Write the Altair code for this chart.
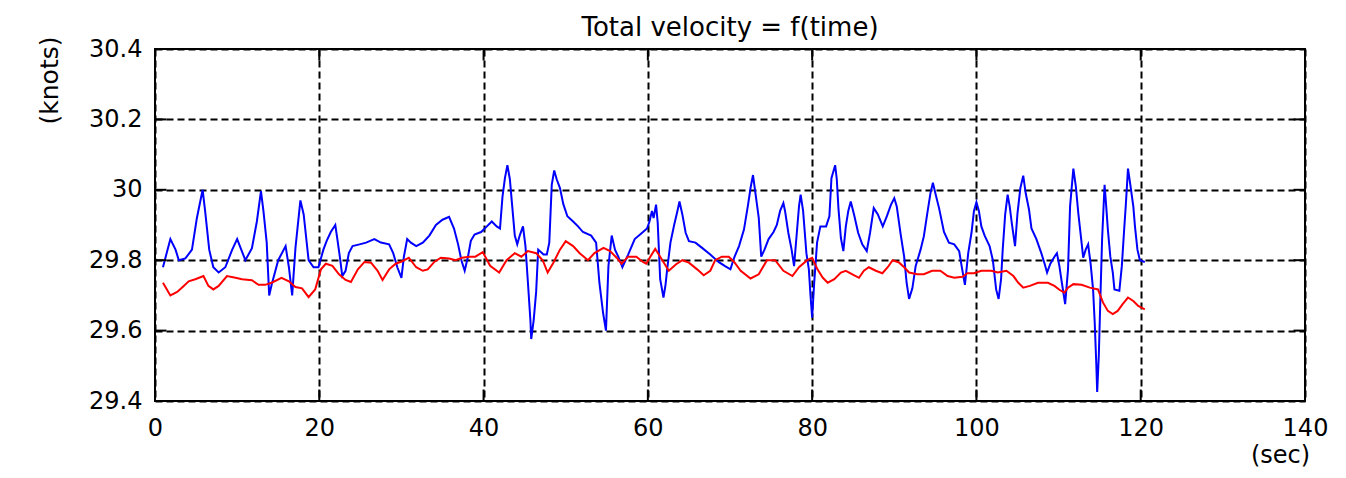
import altair as alt
import pandas as pd

# ---- data ----
blue_t = [0.97, 1.87, 2.5, 2.9, 3.7, 4.5, 5.1, 5.8, 6.1, 6.6, 7.1, 7.75, 8.56, 9.4, 10.0, 10.5, 11.0, 11.8,
          12.4, 12.9, 13.2, 13.6, 13.9, 14.2, 15.0, 15.9, 16.3, 16.7, 17.1, 17.7, 18.1, 18.7, 19.3, 19.9,
          20.5, 20.9, 21.4, 21.95, 22.2, 22.5, 22.8, 23.2, 23.6, 24.05, 24.9, 25.7, 26.7, 27.5, 28.5, 29.0,
          29.5, 30.0, 30.3, 30.7, 31.15, 31.8, 32.6, 33.4, 34.2, 35.0, 35.8, 36.4, 36.9, 37.3, 37.7, 38.1,
          38.45, 38.9, 39.7, 40.4, 41.0, 41.6, 42.0, 42.3, 42.6, 42.9, 43.2, 43.5, 43.8, 44.1, 44.4, 44.8,
          45.1, 45.4, 45.7, 45.8, 46.1, 46.4, 46.65, 47.3, 47.7, 48.0, 48.3, 48.6, 48.9, 49.3, 49.7, 50.2,
          50.9, 51.5, 52.1, 53.1, 53.7, 54.1, 54.55, 54.9, 55.2, 55.6, 56.0, 56.4, 56.9, 57.6, 58.4, 59.2,
          59.9, 60.2, 60.5, 60.7, 61.0, 61.2, 61.5, 61.9, 62.15, 62.35, 62.75, 63.2, 63.6, 63.85, 64.2,
          64.6, 65.0, 65.8, 66.6, 67.6, 68.6, 69.4, 70.05, 70.5, 71.1, 71.7, 72.2, 72.5, 72.8, 73.1, 73.5,
          73.8, 74.2, 74.7, 75.3, 75.7, 76.1, 76.5, 76.7, 77.1, 77.5, 77.8, 78.1, 78.4, 78.6, 78.9, 79.3,
          79.6, 79.8, 80.0, 80.25, 80.6, 81.0, 81.7, 82.1, 82.35, 82.8, 83.0, 83.2, 83.5, 83.8, 84.1, 84.4,
          84.7, 85.1, 85.6, 86.1, 86.65, 87.05, 87.5, 88.0, 88.6, 89.1, 89.6, 90.0, 90.3, 90.8, 91.2, 91.5,
          91.8, 92.2, 92.6, 93.2, 93.6, 94.0, 94.4, 94.7, 95.0, 95.45, 96.05, 96.65, 97.3, 97.9, 98.2, 98.6,
          99.0, 99.4, 99.7, 100.0, 100.3, 100.6, 101.0, 101.6, 102.0, 102.4, 102.7, 103.0, 103.2, 103.5,
          103.8, 104.05, 104.3, 104.7, 105.0, 105.35, 105.7, 106.0, 106.4, 106.7, 107.3, 107.9, 108.3,
          108.6, 109.0, 109.5, 109.8, 110.1, 110.4, 110.8, 111.15, 111.4, 111.8, 112.1, 112.4, 112.8, 113.0,
          113.3, 113.6, 113.9, 114.2, 114.4, 114.6, 114.7, 114.9, 115.1, 115.3, 115.6, 115.8, 116.0, 116.3,
          116.6, 116.8, 117.4, 117.7, 117.96, 118.2, 118.45, 118.7, 119.1, 119.3, 119.6, 119.9, 120.5]
blue_v = [29.78, 29.86, 29.83, 29.80, 29.805, 29.83, 29.92, 30.0, 29.94, 29.83, 29.78, 29.765, 29.78, 29.83,
          29.86, 29.83, 29.80, 29.834, 29.91, 29.996, 29.94, 29.85, 29.70, 29.73, 29.80, 29.84, 29.78, 29.70,
          29.835, 29.97, 29.93, 29.80, 29.78, 29.78,
          29.83, 29.855, 29.88, 29.90, 29.86, 29.81, 29.755, 29.77, 29.82, 29.84, 29.845, 29.85, 29.86,
          29.85, 29.845, 29.82, 29.78, 29.75, 29.81, 29.86, 29.85, 29.84, 29.85, 29.87, 29.90, 29.915,
          29.923, 29.89, 29.845, 29.80, 29.77, 29.81, 29.855, 29.873, 29.88, 29.896, 29.91, 29.896, 29.89,
          29.98, 30.033, 30.07, 30.03, 29.95, 29.87, 29.845, 29.87, 29.896, 29.84, 29.736, 29.63, 29.576,
          29.63, 29.71, 29.83, 29.816, 29.816, 29.85, 30.014, 30.055, 30.03, 30.005, 29.96, 29.925, 29.91,
          29.896, 29.88, 29.87, 29.85, 29.736, 29.65, 29.60, 29.783, 29.87, 29.83, 29.81, 29.78, 29.816,
          29.86, 29.876, 29.89, 29.91, 29.94, 29.92, 29.958, 29.906, 29.746, 29.694, 29.73, 29.774, 29.85,
          29.90, 29.94, 29.967, 29.93, 29.878, 29.854, 29.85, 29.835, 29.816, 29.795, 29.783, 29.774,
          29.807, 29.84, 29.887, 29.958, 30.005, 30.042, 29.99, 29.92, 29.81, 29.83, 29.86, 29.88, 29.90,
          29.94, 29.962, 29.94, 29.878, 29.83, 29.783, 29.868, 29.953, 29.986, 29.94, 29.82, 29.774, 29.70,
          29.637, 29.736, 29.85, 29.896, 29.896, 29.925, 30.033, 30.07, 30.03, 29.948, 29.863, 29.826,
          29.896, 29.94, 29.967, 29.93, 29.878, 29.845, 29.826, 29.878, 29.948, 29.93, 29.896, 29.925,
          29.958, 29.976, 29.953, 29.87, 29.81, 29.736, 29.69, 29.72, 29.783, 29.83, 29.868, 29.93, 29.99,
          30.02, 29.99, 29.948, 29.88, 29.85, 29.845, 29.826, 29.783, 29.73, 29.82, 29.878, 29.94, 29.965,
          29.94, 29.896, 29.87, 29.84, 29.80, 29.717, 29.69, 29.746, 29.83, 29.93, 29.986, 29.953, 29.906,
          29.84, 29.934, 30.005, 30.04, 29.99, 29.944, 29.89, 29.86, 29.82, 29.79, 29.765, 29.79, 29.81,
          29.82, 29.783, 29.736, 29.675, 29.774, 29.953, 30.06, 30.01, 29.934, 29.85, 29.807, 29.83,
          29.845, 29.79, 29.717, 29.623, 29.50, 29.426, 29.53, 29.70, 29.86, 30.014, 29.953, 29.887, 29.81,
          29.765, 29.717, 29.713, 29.783, 29.878, 29.962, 30.06, 30.02, 29.953, 29.896, 29.83, 29.80, 29.795]

red_t = [0.97, 1.87, 2.7, 3.5, 4.1, 4.9, 5.9, 6.5, 7.1, 7.75, 8.76, 9.8, 10.6, 11.8, 12.6, 13.4, 14.2, 15.4,
         16.3, 17.1, 17.9, 18.7, 19.5, 20.2, 20.8, 21.6, 22.4, 23.2, 23.85, 24.7, 25.5, 26.3, 27.1, 27.7,
         28.5, 29.3, 30.1, 30.9, 31.8, 32.6, 33.2, 34.0, 34.8, 35.8, 36.6, 37.4, 38.2, 39.0, 39.9, 40.8,
         41.9, 42.8, 43.8, 44.6, 45.4, 46.4, 47.2, 47.8, 48.5, 49.3, 50.0, 50.9, 51.7, 52.7, 53.5, 54.6,
         55.4, 56.2, 56.8, 57.6, 58.6, 59.4, 59.8, 60.3, 60.9, 61.5, 62.55, 63.4, 64.2, 65.0, 66.0, 66.8,
         67.6, 68.2, 69.0, 69.85, 70.5, 71.3, 72.5, 73.5, 74.5, 75.5, 76.5, 77.6, 78.4, 79.4, 80.0, 80.65,
         81.3, 81.9, 82.7, 83.5, 84.1, 84.9, 85.7, 86.3, 86.9, 87.75, 88.55, 89.2, 89.8, 90.6, 91.2, 91.8,
         92.8, 93.6, 94.6, 95.6, 96.5, 97.3, 98.3, 98.9, 99.7, 100.6, 101.8, 102.6, 103.65, 104.5, 105.1,
         105.7, 106.5, 107.5, 108.7, 109.5, 110.1, 110.7, 111.15, 111.8, 112.8, 113.8, 114.8, 115.4, 116.0,
         116.6, 117.2, 117.8, 118.45, 119.1, 119.7, 120.5]
red_v = [29.736, 29.70, 29.71, 29.727, 29.74, 29.746, 29.755, 29.727, 29.717, 29.727, 29.755, 29.75, 29.746,
         29.743, 29.73, 29.73, 29.736, 29.75, 29.74, 29.724, 29.72, 29.695, 29.717, 29.774, 29.79, 29.784,
         29.76, 29.744, 29.738, 29.774, 29.795, 29.793, 29.77, 29.744, 29.774, 29.79, 29.797, 29.807, 29.78,
         29.77, 29.774, 29.795, 29.807, 29.805, 29.80, 29.807, 29.81, 29.81, 29.823, 29.784, 29.765, 29.80,
         29.82, 29.81, 29.826, 29.82, 29.80, 29.765, 29.793, 29.83, 29.854, 29.84, 29.82, 29.80, 29.82,
         29.835, 29.826, 29.807, 29.79, 29.81, 29.81, 29.795, 29.79, 29.81, 29.832, 29.81, 29.77, 29.788,
         29.80, 29.793, 29.774, 29.757, 29.77, 29.80, 29.81, 29.81, 29.795, 29.77, 29.748, 29.76, 29.80,
         29.80, 29.77, 29.755, 29.78, 29.80, 29.807, 29.774, 29.75, 29.736, 29.746, 29.765, 29.77, 29.76,
         29.75, 29.77, 29.78, 29.77, 29.763, 29.78, 29.80, 29.793, 29.78, 29.765, 29.76, 29.76, 29.77,
         29.77, 29.755, 29.75, 29.753, 29.763, 29.763, 29.77, 29.77, 29.765, 29.77, 29.755, 29.736, 29.722,
         29.727, 29.736, 29.736, 29.727, 29.716, 29.708, 29.722, 29.732, 29.73, 29.722, 29.717, 29.68,
         29.656, 29.647, 29.656, 29.675, 29.694, 29.684, 29.67, 29.66]

x_ticks = [0, 20, 40, 60, 80, 100, 120, 140]
y_ticks = [29.4, 29.6, 29.8, 30.0, 30.2, 30.4]

W, H = 1150, 352
TICK = 11.5
FONT = "DejaVu Sans"

blue = pd.DataFrame({"t": blue_t, "v": blue_v})
red = pd.DataFrame({"t": red_t, "v": red_v})
xt = pd.DataFrame({"t": x_ticks[1:-1]})
yt = pd.DataFrame({"v": y_ticks[1:-1]})

label_expr = "datum.value == 30 ? '30' : format(datum.value, '.1f')"

xs = alt.Scale(domain=[0, 140], nice=False, zero=False)
ys = alt.Scale(domain=[29.4, 30.4], nice=False, zero=False)

x_axis = alt.Axis(values=x_ticks, grid=True, gridColor="black", gridDash=[7, 4], gridWidth=2,
                  gridOpacity=1, ticks=False, tickSize=0, domain=False,
                  labelFont=FONT, labelFontSize=24, labelColor="black", labelBaseline="alphabetic",
                  labelPadding=34, labelFlush=False, labelOverlap=False,
                  title="(sec)", titleFont=FONT, titleFontSize=24, titleFontWeight="normal",
                  titleColor="black", titleX=1125, titleY=61, titleAlign="center",
                  titleBaseline="alphabetic", titleAnchor="start")
y_axis = alt.Axis(values=y_ticks, grid=True, gridColor="black", gridDash=[7, 4], gridWidth=2,
                  gridOpacity=1, ticks=False, tickSize=0, domain=False,
                  labelFont=FONT, labelFontSize=24, labelColor="black", labelPadding=13,
                  labelFlush=False, labelOverlap=False, labelExpr=label_expr,
                  title="(knots)", titleFont=FONT, titleFontSize=25, titleFontWeight="normal",
                  titleColor="black", titleAngle=270, titleX=-106, titleY=31,
                  titleAlign="center", titleBaseline="middle", titleAnchor="start")

line_blue = alt.Chart(blue).mark_line(color="#0000ff", strokeWidth=2, clip=True).encode(
    x=alt.X("t:Q", scale=xs, axis=x_axis),
    y=alt.Y("v:Q", scale=ys, axis=y_axis),
)
line_red = alt.Chart(red).mark_line(color="#ff0000", strokeWidth=2, clip=True).encode(
    x=alt.X("t:Q", scale=xs),
    y=alt.Y("v:Q", scale=ys),
)

tick_style = dict(color="black", strokeWidth=2)
xt_bottom = alt.Chart(xt).mark_rule(**tick_style).encode(
    x=alt.X("t:Q", scale=xs), y=alt.value(H), y2=alt.value(H - TICK))
xt_top = alt.Chart(xt).mark_rule(**tick_style).encode(
    x=alt.X("t:Q", scale=xs), y=alt.value(0), y2=alt.value(TICK))
yt_left = alt.Chart(yt).mark_rule(**tick_style).encode(
    y=alt.Y("v:Q", scale=ys), x=alt.value(0), x2=alt.value(TICK))
yt_right = alt.Chart(yt).mark_rule(**tick_style).encode(
    y=alt.Y("v:Q", scale=ys), x=alt.value(W), x2=alt.value(W - TICK))

chart = alt.layer(line_blue, line_red, xt_bottom, xt_top, yt_left, yt_right).properties(
    width=W, height=H,
    title=alt.TitleParams("Total velocity = f(time)", font=FONT, fontSize=26, fontWeight="normal",
                          color="black", anchor="middle", frame="group", baseline="alphabetic",
                          offset=1, dy=27),
    padding={"left": 147, "top": 41, "right": 33, "bottom": 69},
    autosize=alt.AutoSizeParams(type="none"),
    background="white",
).configure_view(stroke="black", strokeWidth=2, fill="white")

chart.save("out.html", embed_options={"renderer": "svg", "actions": False})
